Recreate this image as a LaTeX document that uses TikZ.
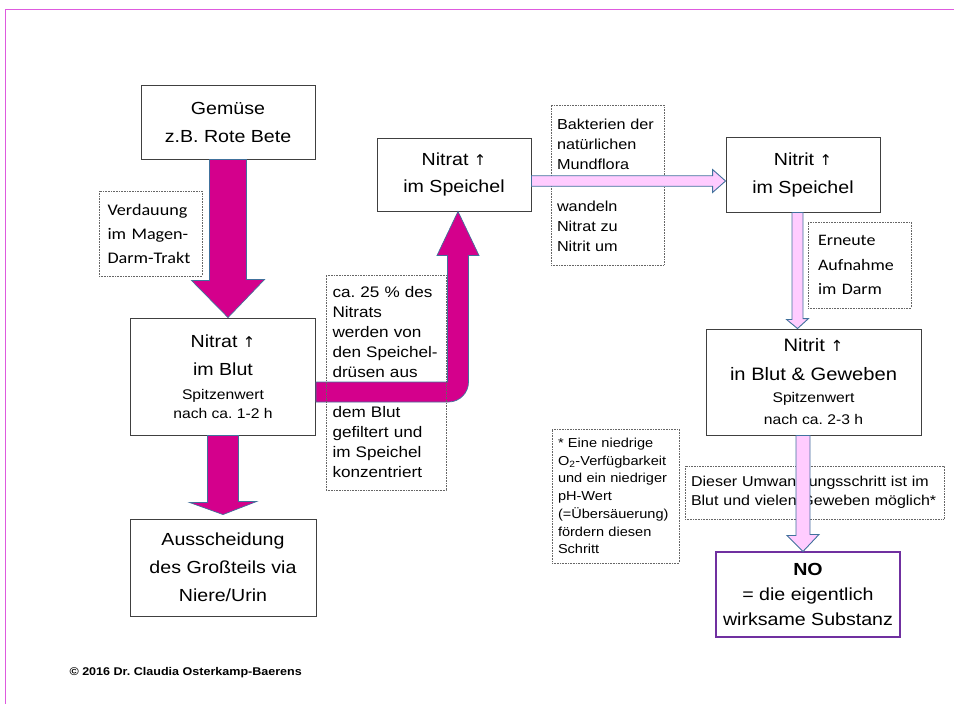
\documentclass[tikz,border=0pt]{standalone}
\usepackage{fontspec}
\setmainfont{Liberation Sans}[FakeStretch=1.12]
\newfontfamily\calibrifont{Carlito}[FakeStretch=1.12]
\newfontfamily\pfeilfont{DejaVu Sans}[Scale=0.85]
\usetikzlibrary{calc, positioning}
\definecolor{FrameMagenta}{RGB}{222, 90, 222}
\definecolor{ArrowMagenta}{RGB}{212, 0, 140}
\definecolor{ArrowPink}{RGB}{255, 204, 255}
\definecolor{ArrowEdge}{RGB}{65, 113, 156}
\definecolor{BoxGray}{RGB}{64, 64, 64}
\definecolor{NoPurple}{RGB}{112, 48, 160}
\newcommand{\kleintext}{\fontsize{14}{19}\selectfont}
\newcommand{\hoch}{{\pfeilfont ↑}}
\frenchspacing

\begin{document}
\begin{tikzpicture}[
    x=1pt, y=-1pt,
    box/.style={rectangle, draw=BoxGray, line width=0.9pt, fill=white, align=center, inner sep=0pt, font=\fontsize{17.5}{28}\selectfont},
    note/.style={rectangle, draw=black!60, densely dotted, line width=0.6pt, align=left, inner sep=0pt, font=\fontsize{14.5}{20}\selectfont},
    fatarrow/.style={fill=ArrowMagenta, draw=ArrowEdge, line width=0.7pt},
    thinarrow/.style={fill=ArrowPink, draw=ArrowEdge, line width=0.9pt}
]
    \useasboundingbox (0,0) rectangle (954,704);
    % Rahmen
    \draw[FrameMagenta, line width=1.5pt] (5.5,704) -- (5.5,9.5) -- (954,9.5);

    % linke Spalte
    \node[box, minimum width=174pt, minimum height=74pt] (gemuese) at (228,122) {Gemüse\\ z.B. Rote Bete};
    \node[box, minimum width=185pt, minimum height=117pt] (nitratblut) at (223,376.5) {Nitrat \hoch\\ im Blut\\[-4pt] {\kleintext Spitzenwert}\\[-9pt] {\kleintext nach ca. 1-2 h}};
    \node[box, minimum width=186pt, minimum height=97pt] (aussch) at (223,567.5) {Ausscheidung\\ des Großteils via\\ Niere/Urin};
    \node[note, minimum width=103pt, minimum height=85pt, text width=86pt, font=\calibrifont\fontsize{16.2}{24}\selectfont] (verdauung) at (150.5,233.5) {Verdauung\\ im Magen-\\ Darm-Trakt};

    % Mundhoehle
    \node[box, minimum width=154pt, minimum height=73pt, font=\fontsize{17.5}{27}\selectfont] (nitratsp) at (454,174.5) {Nitrat \hoch\\ im Speichel};
    \node[note, minimum width=113pt, minimum height=160pt, text width=101pt] (bakterien) at (607.5,185) {Bakterien der\\ natürlichen\\ Mundflora\\[22pt] wandeln\\ Nitrat zu\\ Nitrit um};
    \node[box, minimum width=154pt, minimum height=75pt, font=\fontsize{17.5}{28}\selectfont] (nitritsp) at (803,174.5) {Nitrit \hoch\\ im Speichel};

    % rechte Spalte
    \node[note, minimum width=103pt, minimum height=86pt, text width=83pt, font=\calibrifont\fontsize{16}{24.5}\selectfont] (erneute) at (859.5,265) {Erneute\\ Aufnahme\\ im Darm};
    \node[box, minimum width=215pt, minimum height=106pt, font=\fontsize{18}{29}\selectfont] (nitritblut) at (813.5,382) {Nitrit \hoch\\ in Blut \& Geweben\\[-7pt] {\fontsize{14}{22}\selectfont Spitzenwert}\\[-7pt] {\fontsize{14}{22}\selectfont nach ca. 2-3 h}};
    \node[note, minimum width=127pt, minimum height=134pt, text width=115pt, font=\fontsize{13}{17.7}\selectfont] (fussnote) at (615.5,496) {* Eine niedrige\\ O\textsubscript{2}-Verfügbarkeit\\ und ein niedriger\\ pH-Wert\\ (=Übersäuerung)\\ fördern diesen\\ Schritt};
    \node[note, minimum width=259pt, minimum height=53pt, text width=247pt, font=\fontsize{14.3}{19}\selectfont] (dieser) at (814.5,492.5) {Dieser Umwandlungsschritt ist im\\ Blut und vielen Geweben möglich*};
    \node[box, draw=NoPurple, line width=1.1pt, minimum width=184pt, minimum height=85pt, font=\fontsize{17.5}{25}\selectfont] (no) at (808,594.5) {\textbf{NO}\\ = die eigentlich\\ wirksame Substanz};

    \node[anchor=base west, font=\bfseries\fontsize{11.2}{13}\selectfont] (copyright) at (66,675) {© 2016 Dr. Claudia Osterkamp-Baerens};

    % Pfeile
    \draw[fatarrow] ($(gemuese.south)+(-18.5,0)$) -- ++(0,121) -- ++(-18,0) -- (gemuese.south |- nitratblut.north) -- ++(36.5,-38) -- ++(-18,0) -- ($(gemuese.south)+(18.5,0)$) -- cycle;
    \draw[fatarrow] ($(nitratblut.south)+(-15.5,0)$) -- ++(0,67) -- ++(-18,0) -- ($(nitratblut.south |- aussch.north)+(0,-4)$) -- ++(33.5,-13) -- ++(-18,0) -- ($(nitratblut.south)+(15.5,0)$) -- cycle;
    \coordinate (bend) at (458,392);
    \draw[fatarrow] ($(nitratblut.east)+(0,5.5)$) -- ($(bend)+(-10.5,-10)$) -- ($(bend |- nitratsp.south)+(-10.5,44)$) -- ++(-10.5,0) -- (bend |- nitratsp.south) -- ++(21,44) -- ++(-10.5,0) -- ($(bend)+(10.5,-10)$) .. controls ($(bend)+(10.5,1)$) and ($(bend)+(1.5,10)$) .. ($(bend)+(-9.5,10)$) -- ($(nitratblut.east)+(0,25.5)$) -- cycle;
    \draw[thinarrow] ($(nitratsp.east)+(0,1.25)$) -- ($(nitritsp.west)+(-13,1.25)$) -- ++(0,-6.25) -- ($(nitritsp.west)+(0,6.5)$) -- ++(-13,11.5) -- ++(0,-6.25) -- ($(nitratsp.east)+(0,11.75)$) -- cycle;
    \draw[thinarrow] ($(nitritsp.south)+(-11,0)$) -- ++(0,107) -- ++(-5.5,0) -- ($(nitritsp.south |- nitritblut.north)+(-5.5,0)$) -- ++(11,-10) -- ++(-5.5,0) -- (nitritsp.south) -- cycle;
    \draw[thinarrow] ($(nitritblut.south)+(-17.5,0)$) -- ++(0,100) -- ++(-9,0) -- ($(nitritblut.south |- no.north)+(-10.5,0)$) -- ++(16,-17) -- ++(-9,0) -- ($(nitritblut.south)+(-3.5,0)$) -- cycle;

    % Notiz ueber dem gebogenen Pfeil
    \node[note, minimum width=120pt, minimum height=215pt, text width=107pt, font=\fontsize{15.3}{20}\selectfont] (anteil) at (386,382.5) {ca. 25 \% des\\ Nitrats\\ werden von\\ den Speichel-\\ drüsen aus\\[20pt] dem Blut\\ gefiltert und\\ im Speichel\\ konzentriert};
\end{tikzpicture}
\end{document}
